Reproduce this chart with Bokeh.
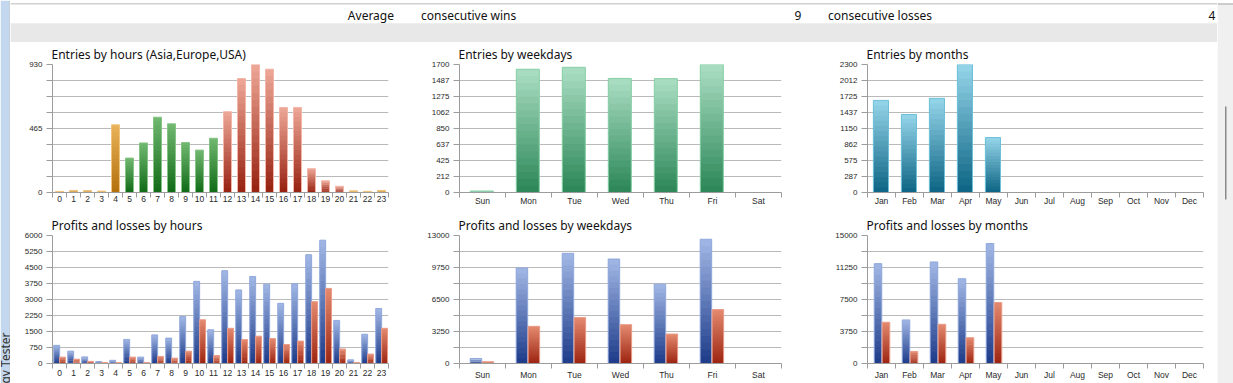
import numpy as np
from bokeh.plotting import figure
from bokeh.layouts import column, row
from bokeh.models import Range1d, FixedTicker, Label, Title
from bokeh.embed import file_html
from bokeh.resources import INLINE

# ---------------- data ----------------
hours = [str(h) for h in range(24)]
hour_session = ["asia"] * 5 + ["europe"] * 7 + ["usa"] * 9 + ["asia"] * 3
hour_entries = [8, 15, 14, 10, 492, 250, 360, 547, 499, 363, 308, 394,
                587, 828, 930, 896, 618, 618, 173, 85, 45, 12, 8, 15]
weekdays = ["Sun", "Mon", "Tue", "Wed", "Thu", "Fri", "Sat"]
weekday_entries = [20, 1637, 1663, 1515, 1512, 1700, 0]
months = ["Jan", "Feb", "Mar", "Apr", "May", "Jun", "Jul", "Aug", "Sep", "Oct", "Nov", "Dec"]
month_entries = [1655, 1402, 1692, 2300, 987, 0, 0, 0, 0, 0, 0, 0]

hour_profits = [850, 580, 310, 90, 150, 1130, 300, 1340, 1190, 2200, 3850, 1580,
                4350, 3450, 4080, 3720, 2820, 3740, 5100, 5780, 2020, 170, 1370, 2580]
hour_losses = [300, 200, 100, 50, 40, 300, 50, 330, 250, 580, 2050, 370,
               1650, 1120, 1280, 1170, 890, 1050, 2900, 3520, 680, 50, 440, 1650]
weekday_profits = [510, 9700, 11190, 10610, 8060, 12620, 0]
weekday_losses = [170, 3775, 4660, 3945, 2990, 5475, 0]
month_profits = [11700, 5105, 11900, 9935, 14060, 0, 0, 0, 0, 0, 0, 0]
month_losses = [4830, 1414, 4595, 3024, 7147, 0, 0, 0, 0, 0, 0, 0]

# axis maxima and label step (label every n-th of 8 gridlines)
entries_max = [930, 1700, 2300]
entries_label_every = [4, 1, 1]
pl_max = [6000, 13000, 15000]
pl_label_every = [1, 2, 2]

titles_top = ["Entries by hours (Asia,Europe,USA)", "Entries by weekdays", "Entries by months"]
titles_bottom = ["Profits and losses by hours", "Profits and losses by weekdays", "Profits and losses by months"]

header_labels = ["Average", "consecutive wins", "9", "consecutive losses", "4"]
side_label = "Strategy Tester"

# ---------------- styling ----------------
TITLE_FONT = "Noto Sans"
TICK_FONT = "Liberation Sans"
GRID = "#bababa"
AXIS = "#9c9c9c"

session_colors = {
    "asia": ("#b36f0c", "#eab35a", "#f0c47c"),
    "europe": ("#0f6a16", "#72b872", "#86c486"),
    "usa": ("#96200f", "#eea898", "#f2b6a8"),
}
wk_colors = ("#2a8656", "#acdec4", "#86cfa6")
mo_colors = ("#0b6383", "#96d6ea", "#6cc0d8")
profit_colors = ("#1c3a88", "#a2b8e6", "#90a8dc")
loss_colors = ("#9c2410", "#e48a70", "#ea9c88")


def hex2rgb(h):
    return tuple(int(h[i:i + 2], 16) for i in (1, 3, 5))


def mix(c1, c2, t):
    a, b = hex2rgb(c1), hex2rgb(c2)
    return "#%02x%02x%02x" % tuple(int(round(a[i] + (b[i] - a[i]) * t)) for i in range(3))


def grad_bars(p, xs, vals, width, dark, light, outline, n=18):
    bx, bb, bt, bc = [], [], [], []
    ox, ov = [], []
    for x, v in zip(xs, vals):
        if v <= 0:
            continue
        ox.append(x)
        ov.append(v)
        for k in range(n):
            bx.append(x)
            bb.append(v * k / n)
            bt.append(v * min(k + 1.5, n) / n)
            bc.append(mix(dark, light, (k + 0.5) / n))
    p.vbar(x=bx, bottom=bb, top=bt, width=width, fill_color=bc, line_color=None)
    p.vbar(x=ox, bottom=0, top=ov, width=width, fill_color=None, line_color=outline, line_width=1)


def make_fig(width, height, left, right, top, bottom, cats, ymax, label_every, title, x_standoff):
    n = len(cats)
    p = figure(width=width, height=height, x_range=Range1d(0, n), y_range=Range1d(0, ymax),
               toolbar_location=None, output_backend="svg", title=None,
               min_border_left=left, min_border_right=right,
               min_border_top=top, min_border_bottom=bottom,
               background_fill_color="white", border_fill_color="white",
               outline_line_color=None)
    centers = [i + 0.5 for i in range(n)]
    xa = p.xaxis[0]
    xa.ticker = FixedTicker(ticks=centers, minor_ticks=list(range(n + 1)))
    xa.major_label_overrides = {c: lab for c, lab in zip(centers, cats)}
    xa.major_tick_out = 0
    xa.major_tick_in = 0
    xa.minor_tick_out = 5
    xa.minor_tick_in = 0
    xa.minor_tick_line_color = AXIS
    xa.axis_line_color = AXIS
    xa.major_label_standoff = x_standoff
    xa.major_label_text_font = TICK_FONT
    xa.major_label_text_font_size = "8.5px"
    xa.major_label_text_color = "#2a2a2a"
    p.xgrid.visible = False

    yt = [ymax * i / 8 for i in range(9)]
    ya = p.yaxis[0]
    ya.ticker = FixedTicker(ticks=yt)
    ya.major_label_overrides = {t: (str(int(t)) if i % label_every == 0 else "") for i, t in enumerate(yt)}
    ya.major_tick_out = 6
    ya.major_tick_in = 0
    ya.minor_tick_line_color = None
    ya.major_tick_line_color = AXIS
    ya.axis_line_color = AXIS
    ya.major_label_standoff = 4
    ya.major_label_text_font = TICK_FONT
    ya.major_label_text_font_size = "8px"
    ya.major_label_text_color = "#2a2a2a"
    p.ygrid.ticker = FixedTicker(ticks=yt)
    p.ygrid.grid_line_color = GRID
    p.ygrid.grid_line_width = 1

    p.add_layout(Title(text=title, align="left", offset=-1, standoff=3,
                       text_font=TITLE_FONT, text_font_size="12px",
                       text_font_style="normal", text_color="#111111"), "above")
    return p


cols = [dict(width=390, left=42, right=12), dict(width=400, left=59, right=19), dict(width=417, left=67, right=14)]
rows_geo = [dict(height=166, top=22, bottom=16, standoff=-2), dict(height=175, top=27, bottom=20, standoff=1)]

cats_list = [hours, weekdays, months]

# ---------------- top row: entries ----------------
top_figs = []
for ci, (cats, vals) in enumerate(zip(cats_list, [hour_entries, weekday_entries, month_entries])):
    g, r = cols[ci], rows_geo[0]
    p = make_fig(g["width"], r["height"], g["left"], g["right"], r["top"], r["bottom"],
                 cats, entries_max[ci], entries_label_every[ci], titles_top[ci], r["standoff"])
    idx = np.arange(len(cats))
    if ci == 0:
        for s, (dark, light, outl) in session_colors.items():
            xs = [i + 0.5 for i in idx if hour_session[i] == s]
            vs = [vals[i] for i in idx if hour_session[i] == s]
            grad_bars(p, xs, vs, 0.57, dark, light, outl)
    elif ci == 1:
        grad_bars(p, list(idx + 0.485), vals, 0.5, *wk_colors)
    else:
        grad_bars(p, list(idx + 0.48), vals, 0.54, *mo_colors)
    top_figs.append(p)

# ---------------- bottom row: profits / losses ----------------
pl_data = [(hour_profits, hour_losses), (weekday_profits, weekday_losses), (month_profits, month_losses)]
pl_pos = [(0.30, 0.72, 0.42), (0.357, 0.617, 0.25), (0.375, 0.66, 0.27)]
bot_figs = []
for ci, cats in enumerate(cats_list):
    g, r = cols[ci], rows_geo[1]
    p = make_fig(g["width"], r["height"], g["left"], g["right"], r["top"], r["bottom"],
                 cats, pl_max[ci], pl_label_every[ci], titles_bottom[ci], r["standoff"])
    idx = np.arange(len(cats))
    pb, pr, w = pl_pos[ci]
    prof, loss = pl_data[ci]
    grad_bars(p, list(idx + pb), prof, w, *profit_colors)
    grad_bars(p, list(idx + pr), loss, w, *loss_colors)
    bot_figs.append(p)


# ---------------- window chrome (pixel-space panels) ----------------
def chrome(x0, x1, y0, y1):
    return figure(width=x1 - x0, height=y1 - y0, x_range=Range1d(x0, x1), y_range=Range1d(y1, y0),
                  toolbar_location=None, output_backend="svg", title=None,
                  x_axis_type=None, y_axis_type=None, min_border=0,
                  background_fill_color="white", border_fill_color="white", outline_line_color=None)


hdr = chrome(10, 1217, 0, 42)
hdr.quad(left=[10, 10, 10], right=[1217, 1217, 1217],
         top=[3, 4, 22.7], bottom=[4, 22.7, 41.7],
         fill_color=["#a3a3a3", "#ffffff", "#e8e8e8"], line_color=None)
hx = [393.5, 420.5, 797.5, 827.5, 1211.5]
ha = ["right", "left", "center", "left", "center"]
for t, x, a in zip(header_labels, hx, ha):
    hdr.add_layout(Label(x=x, y=14.5, text=t, text_align=a, text_baseline="middle",
                         text_font=TITLE_FONT, text_font_size="12px", text_color="#111111"))

lstrip = chrome(0, 10, 0, 383)
lstrip.quad(left=[0, 9], right=[9, 10], top=[0, 0], bottom=[383, 383],
            fill_color=["#c3d7ee", "#a9b3be"], line_color=None)
lstrip.add_layout(Label(x=4.5, y=332, text=side_label, angle=np.pi / 2, text_align="right",
                        text_baseline="middle", text_font=TITLE_FONT, text_font_size="12px",
                        text_color="#333333"))

rstrip = chrome(1217, 1233, 0, 383)
rstrip.quad(left=[1217, 1217, 1224.5], right=[1233, 1233, 1226], top=[0, 3, 106], bottom=[3, 383, 199],
            fill_color=["#ffffff", "#f0f0f0", "#8a8a8a"], line_color=None)
rstrip.quad(left=[1217], right=[1233], top=[3], bottom=[4], fill_color="#a3a3a3", line_color=None)

middle = column(hdr, row(*top_figs, spacing=0), row(*bot_figs, spacing=0), spacing=0)
layout = row(lstrip, middle, rstrip, spacing=0)

open("out.html", "w").write(file_html(layout, INLINE))
